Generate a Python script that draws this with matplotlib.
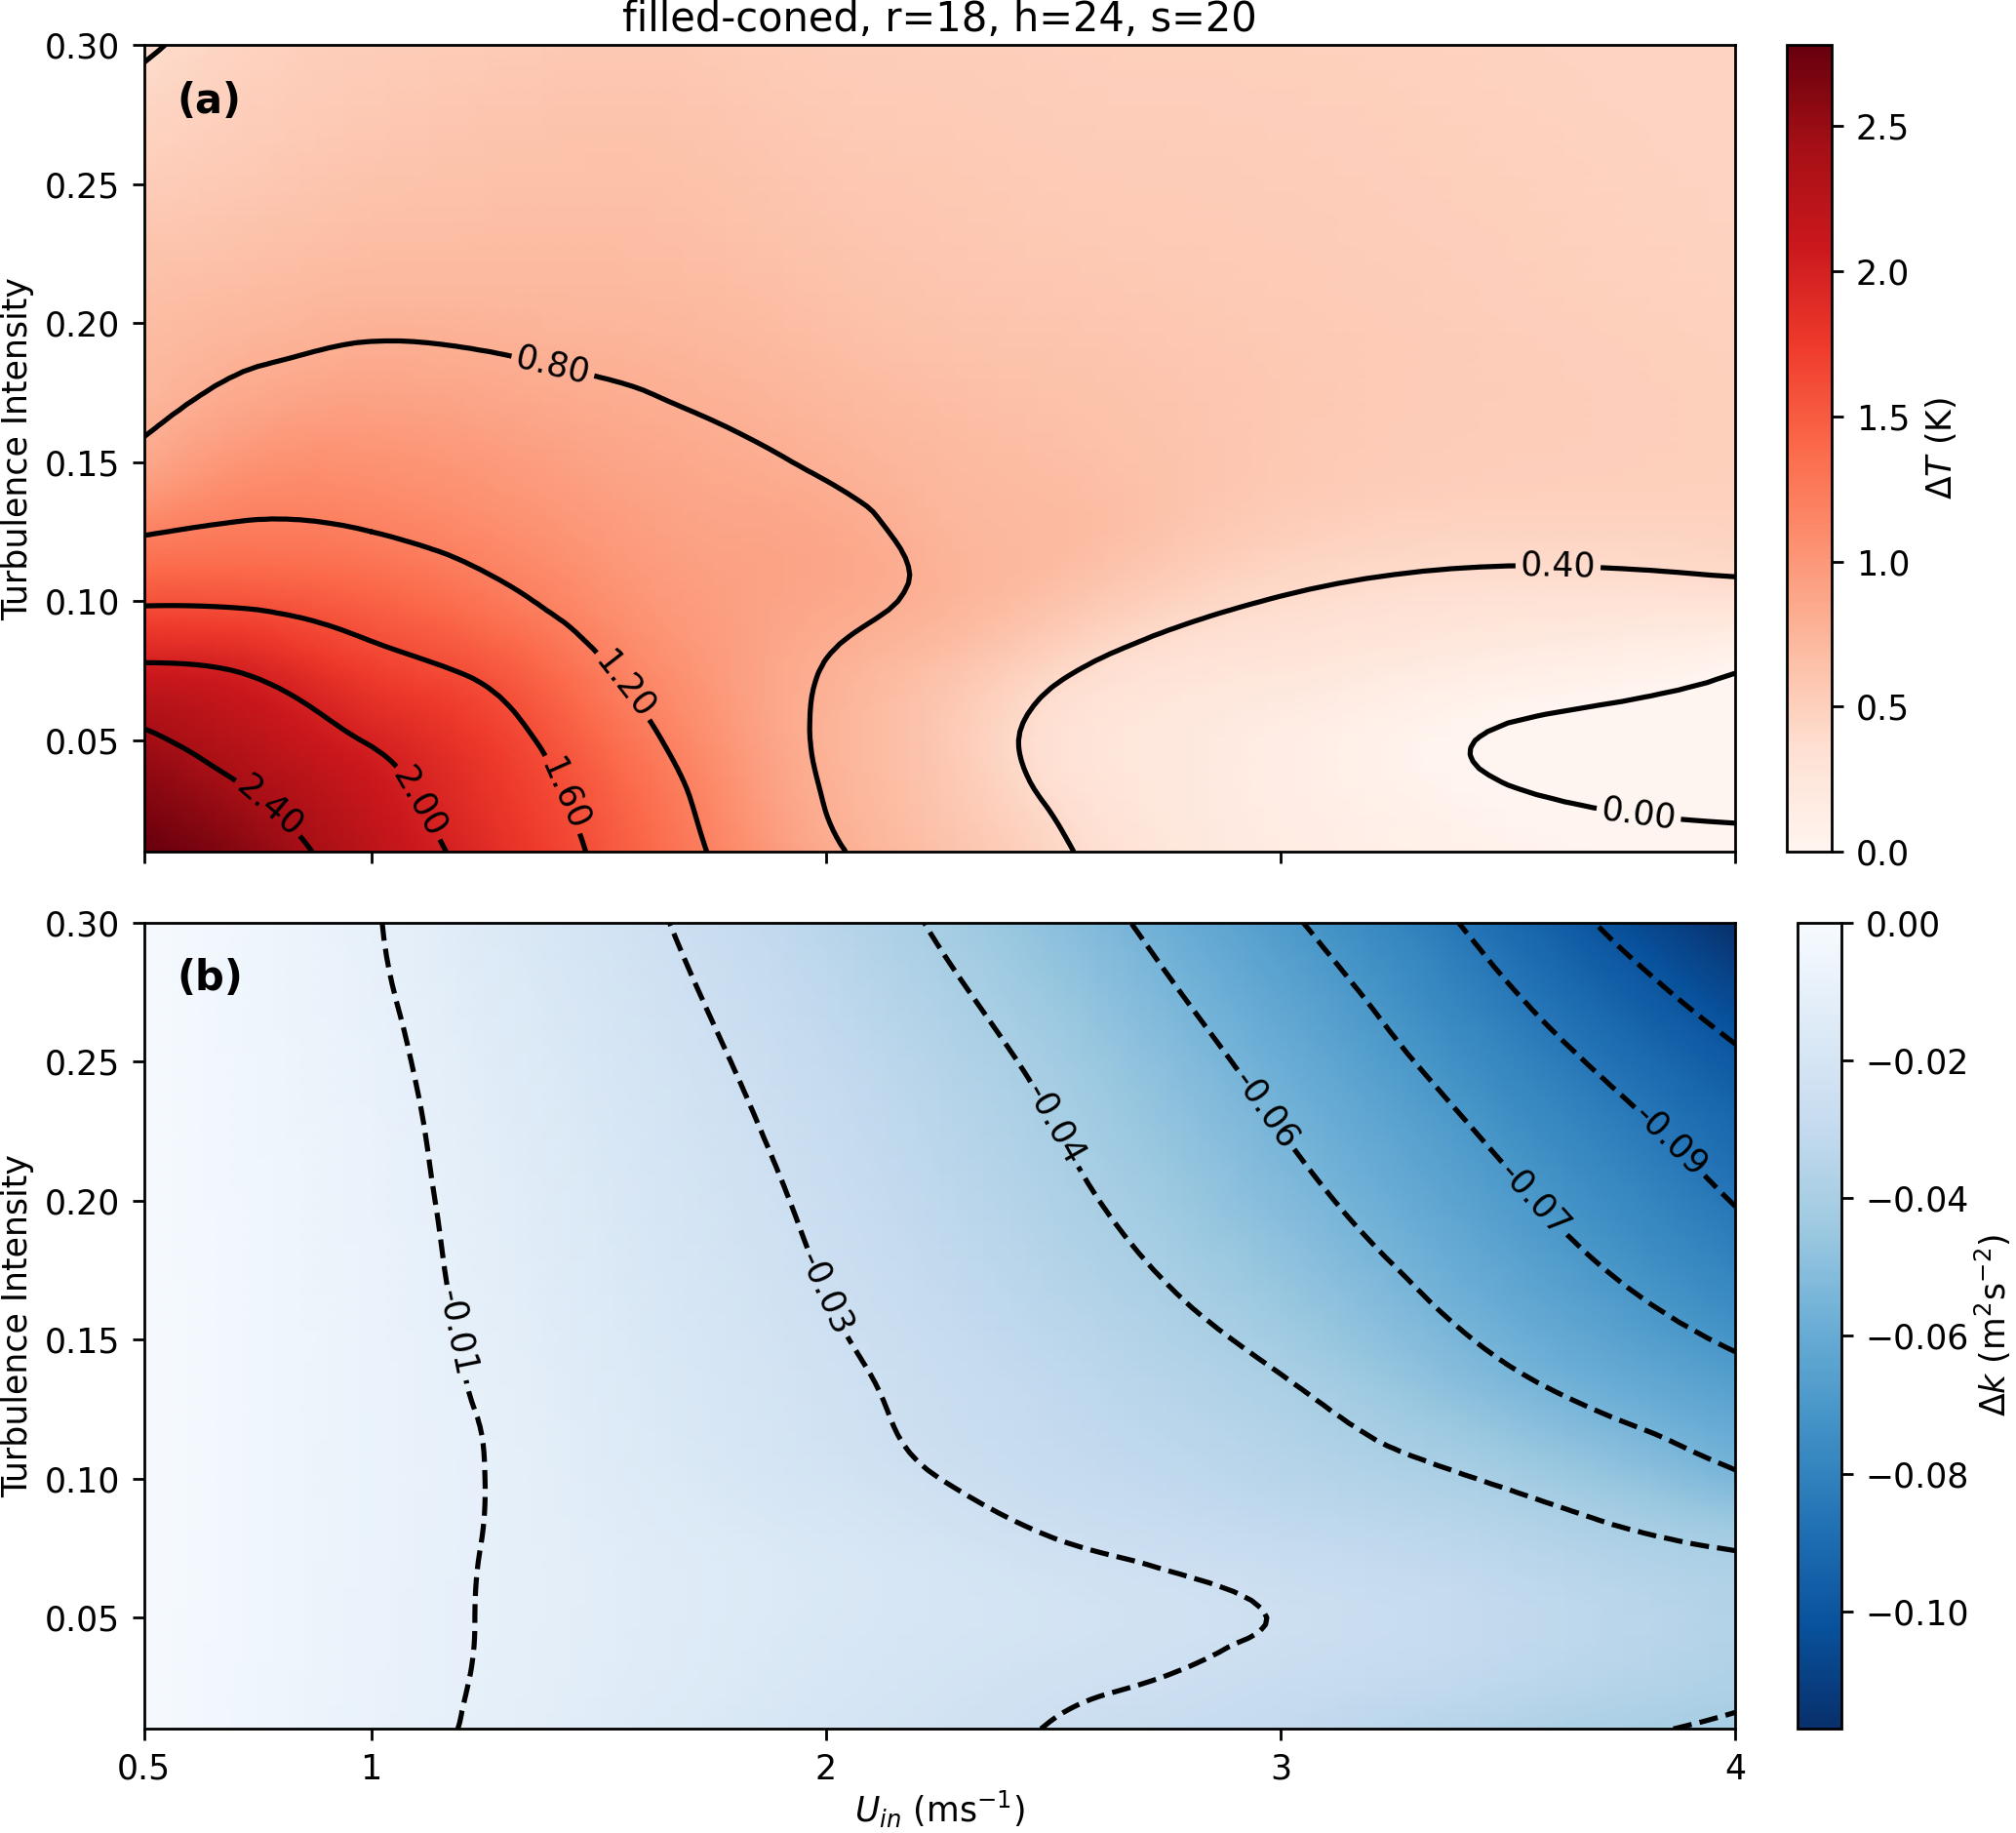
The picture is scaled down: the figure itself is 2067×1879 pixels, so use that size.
import matplotlib
matplotlib.use("Agg")
import matplotlib.pyplot as plt
import matplotlib.tri as mtri
import numpy as np

u_in = [0.5, 0.75, 1.0, 1.25, 1.5, 1.75, 2.0, 2.25, 2.5, 2.75, 3.0, 3.5, 4.0]
turb = [0.01, 0.03, 0.05, 0.075, 0.10, 0.125, 0.15, 0.20, 0.25, 0.30]

# delta T (K), one row per turbulence intensity
dT = [
    [2.78, 2.55, 2.22, 1.89, 1.56, 1.18, 0.84, 0.64, 0.44, 0.25, 0.16, 0.05, 0.02],
    [2.62, 2.40, 2.12, 1.82, 1.50, 1.12, 0.79, 0.60, 0.37, 0.22, 0.14, 0.01, -0.02],
    [2.45, 2.22, 1.98, 1.74, 1.40, 1.05, 0.77, 0.58, 0.33, 0.22, 0.14, -0.015, -0.03],
    [2.06, 1.96, 1.72, 1.55, 1.24, 0.98, 0.79, 0.64, 0.44, 0.30, 0.25, 0.12, 0.005],
    [1.57, 1.55, 1.45, 1.29, 1.08, 0.94, 0.86, 0.76, 0.63, 0.48, 0.39, 0.32, 0.32],
    [1.18, 1.24, 1.20, 1.10, 0.98, 0.90, 0.86, 0.75, 0.70, 0.61, 0.52, 0.46, 0.47],
    [0.86, 1.03, 1.04, 0.98, 0.90, 0.84, 0.78, 0.71, 0.67, 0.62, 0.57, 0.52, 0.50],
    [0.68, 0.73, 0.77, 0.76, 0.74, 0.71, 0.66, 0.62, 0.60, 0.58, 0.56, 0.52, 0.49],
    [0.53, 0.58, 0.62, 0.64, 0.65, 0.63, 0.59, 0.57, 0.55, 0.54, 0.53, 0.50, 0.47],
    [0.38, 0.48, 0.53, 0.55, 0.57, 0.56, 0.53, 0.52, 0.51, 0.50, 0.50, 0.48, 0.46],
]

# delta k (m2 s-2)
dk = [
    [-0.001, -0.0048, -0.0082, -0.0106, -0.0138, -0.0168, -0.0197, -0.0225, -0.0253, -0.0276, -0.0298, -0.0365, -0.0412],
    [-0.001, -0.0046, -0.0079, -0.0103, -0.0130, -0.0157, -0.0185, -0.0210, -0.0232, -0.0249, -0.0272, -0.0320, -0.0375],
    [-0.001, -0.0045, -0.0078, -0.0102, -0.0127, -0.0152, -0.0176, -0.0198, -0.0215, -0.0234, -0.0253, -0.0305, -0.0365],
    [-0.001, -0.0043, -0.0075, -0.0101, -0.0128, -0.0155, -0.0180, -0.0210, -0.0243, -0.0265, -0.0290, -0.0340, -0.0403],
    [-0.001, -0.0043, -0.0075, -0.0100, -0.0138, -0.0175, -0.0213, -0.0250, -0.0283, -0.0312, -0.0343, -0.0413, -0.0535],
    [-0.001, -0.0043, -0.0075, -0.0103, -0.0145, -0.0187, -0.0228, -0.0268, -0.0304, -0.0341, -0.0378, -0.0500, -0.0627],
    [-0.001, -0.0043, -0.0075, -0.0109, -0.0153, -0.0197, -0.0241, -0.0285, -0.0328, -0.0372, -0.0425, -0.0574, -0.0715],
    [-0.001, -0.0045, -0.0079, -0.0119, -0.0168, -0.0217, -0.0267, -0.0322, -0.0376, -0.0440, -0.0513, -0.0679, -0.0855],
    [-0.001, -0.0050, -0.0085, -0.0133, -0.0187, -0.0241, -0.0298, -0.0357, -0.0422, -0.0502, -0.0588, -0.0783, -0.0980],
    [-0.001, -0.0050, -0.0095, -0.0152, -0.0212, -0.0274, -0.0340, -0.0410, -0.0490, -0.0580, -0.0680, -0.0903, -0.1170],
]

dT_levels = np.arange(0, 2.8, 0.4)
dk_levels = np.arange(-0.1, 0, 0.015)

x_ticks = [0.5, 1, 2, 3, 4]
x_ticklabels = ["0.5", "1", "2", "3", "4"]
y_ticks = [0.05, 0.10, 0.15, 0.20, 0.25, 0.30]

X, Y = np.meshgrid(u_in, turb)


def smooth(z):
    # let matplotlib's tri tools do a cubic refinement of the coarse grid
    # (done in unit-square coords so the aspect ratio doesn't bias it)
    xn = (X - 0.5) / 3.5
    yn = (Y - 0.01) / 0.29
    tri = mtri.Triangulation(xn.ravel(), yn.ravel())
    interp = mtri.CubicTriInterpolator(tri, np.ravel(z), kind="min_E")
    tri_f, z_f = mtri.UniformTriRefiner(tri).refine_field(
        np.ravel(z), triinterpolator=interp, subdiv=3)
    tri_out = mtri.Triangulation(tri_f.x * 3.5 + 0.5, tri_f.y * 0.29 + 0.01,
                                 tri_f.triangles)
    return tri_out, z_f


fig = plt.figure(figsize=(2067 / 250, 1879 / 250), dpi=250)
ax1 = fig.add_axes([0.0714, 0.5354, 0.7895, 0.4401])
ax2 = fig.add_axes([0.0714, 0.0568, 0.7895, 0.4400])
cax1 = fig.add_axes([0.8865, 0.5354, 0.0223, 0.4401])
cax2 = fig.add_axes([0.8916, 0.0568, 0.0220, 0.4400])

# (a) temperature difference
t1, z1 = smooth(dT)
m1 = ax1.tripcolor(t1, z1, cmap="Reds", shading="gouraud", vmin=0, vmax=2.78)
cs1 = ax1.tricontour(t1, z1, levels=dT_levels, colors="k", linewidths=1.5)
ax1.clabel(cs1, fmt="%.2f", fontsize=10,
           manual=[(1.40, 0.185), (1.55, 0.069), (1.40, 0.029), (1.12, 0.029),
                   (0.78, 0.027), (3.61, 0.115), (3.79, 0.027)])
cb1 = fig.colorbar(m1, cax=cax1)
cb1.set_label(r"$\Delta T$ (K)")
ax1.set_title("filled-coned, r=18, h=24, s=20", pad=4)
ax1.text(0.021, 0.93, "(a)", transform=ax1.transAxes, fontsize=12,
         fontweight="bold", va="center")

# (b) TKE difference
t2, z2 = smooth(dk)
m2 = ax2.tripcolor(t2, z2, cmap="Blues_r", shading="gouraud", vmin=-0.117, vmax=0.0)
cs2 = ax2.tricontour(t2, z2, levels=dk_levels, colors="k", linewidths=1.5,
                     linestyles="dashed")
ax2.clabel(cs2, fmt="%.2f", fontsize=10,
           manual=[(1.20, 0.153), (1.99, 0.166), (2.52, 0.229), (2.97, 0.233),
                   (3.56, 0.201), (3.86, 0.222)])
cb2 = fig.colorbar(m2, cax=cax2)
cb2.set_label(r"$\Delta k$ (m$^2$s$^{-2}$)", labelpad=1)
ax2.text(0.021, 0.93, "(b)", transform=ax2.transAxes, fontsize=12,
         fontweight="bold", va="center")

for ax in (ax1, ax2):
    ax.set_xlim(0.5, 4)
    ax.set_ylim(0.01, 0.30)
    ax.set_xticks(x_ticks)
    ax.set_yticks(y_ticks)
    ax.set_yticklabels(["%.2f" % v for v in y_ticks])
    ax.set_ylabel("Turbulence Intensity", labelpad=3)
ax1.set_xticklabels([])
ax2.set_xticklabels(x_ticklabels)
ax2.set_xlabel(r"$U_{in}$ (ms$^{-1}$)", labelpad=1)

fig.savefig("out.png", dpi=250)
